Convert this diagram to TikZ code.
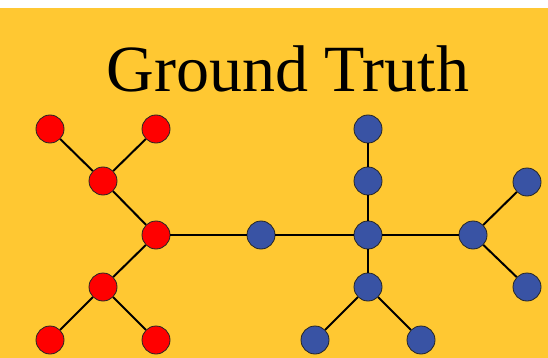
\documentclass[tikz,border=0pt]{standalone}
\usepackage{fontspec}
\setmainfont{Liberation Serif}
\definecolor{bgyellow}{HTML}{FFC832}
\definecolor{nred}{HTML}{FF0000}
\definecolor{nblue}{HTML}{3953A4}
\begin{document}
\begin{tikzpicture}[x=1pt,y=-1pt,
  dot/.style={circle,minimum size=28pt,inner sep=0pt,draw=black!85,line width=0.8pt},
  rdot/.style={dot,fill=nred},
  bdot/.style={dot,fill=nblue},
  edge/.style={line width=2pt,black}]
\fill[white] (0,0) rectangle (548,358);
\fill[bgyellow] (0,8) rectangle (548,358);
\useasboundingbox (0,0) rectangle (548,358);
\node[anchor=base,font=\fontsize{66}{70}\selectfont,inner sep=0pt] (title) at (288,91.5) {Ground Truth};
% red
\node[rdot] (r1) at (50,129) {};
\node[rdot] (r2) at (156,129) {};
\node[rdot] (r3) at (103,181) {};
\node[rdot] (rc) at (156,235) {};
\node[rdot] (r4) at (103,287) {};
\node[rdot] (r5) at (50,340) {};
\node[rdot] (r6) at (156,340) {};
% blue
\node[bdot] (bm) at (261,235) {};
\node[bdot] (bc) at (368,235) {};
\node[bdot] (bt1) at (368,129) {};
\node[bdot] (bt2) at (368,181) {};
\node[bdot] (bb) at (368,287) {};
\node[bdot] (bbl) at (315,340) {};
\node[bdot] (bbr) at (421,340) {};
\node[bdot] (bh) at (473,235) {};
\node[bdot] (bht) at (527,182) {};
\node[bdot] (bhb) at (527,287) {};
\draw[edge] (r1) -- (r3);
\draw[edge] (r2) -- (r3);
\draw[edge] (r3) -- (rc);
\draw[edge] (rc) -- (r4);
\draw[edge] (r4) -- (r5);
\draw[edge] (r4) -- (r6);
\draw[edge] (rc) -- (bm);
\draw[edge] (bm) -- (bc);
\draw[edge] (bc) -- (bt2);
\draw[edge] (bt2) -- (bt1);
\draw[edge] (bc) -- (bb);
\draw[edge] (bb) -- (bbl);
\draw[edge] (bb) -- (bbr);
\draw[edge] (bc) -- (bh);
\draw[edge] (bh) -- (bht);
\draw[edge] (bh) -- (bhb);
\end{tikzpicture}
\end{document}
